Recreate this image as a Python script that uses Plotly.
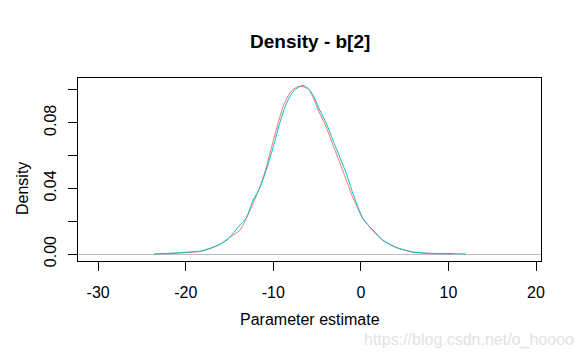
import plotly.graph_objects as go

# Data
red_x = [-23.6, -21.8, -20.1, -18.3, -17.2, -16.1, -15.0, -13.8, -13.1, -12.3, -11.6, -10.9,
         -10.2, -9.5, -8.8, -8.0, -7.3, -6.6, -6.0, -5.5, -4.8, -4.0, -3.3, -2.5, -1.8, -1.0,
         0.2, 1.4, 2.5, 4.0, 5.9, 7.8, 9.3, 10.5]
red_y = [0.0, 0.0003, 0.0008, 0.0016, 0.0033, 0.0058, 0.0100, 0.0145, 0.0215, 0.0310, 0.0400,
         0.0510, 0.0650, 0.0790, 0.0910, 0.0990, 0.1018, 0.1020, 0.1005, 0.0960, 0.0870,
         0.0780, 0.0680, 0.0570, 0.0470, 0.0355, 0.0220, 0.0140, 0.0083, 0.0040, 0.0012,
         0.0004, 0.0002, 0.0]

cyan_x = [-23.6, -21.8, -20.1, -18.3, -17.2, -16.1, -15.2, -13.8, -13.1, -12.3, -11.55, -10.8,
          -10.0, -9.27, -8.5, -7.75, -7.1, -6.6, -6.04, -5.47, -4.7, -3.95, -3.2, -2.43, -1.67,
          -0.91, 0.23, 1.37, 2.5, 4.0, 5.9, 7.8, 10.5, 12.0]
cyan_y = [0.0, 0.0004, 0.0010, 0.0018, 0.0035, 0.0059, 0.0090, 0.0177, 0.0218, 0.0329, 0.0400,
          0.0512, 0.0654, 0.0797, 0.0919, 0.0990, 0.1018, 0.1028, 0.1010, 0.0970, 0.0878,
          0.0797, 0.0695, 0.0593, 0.0492, 0.0370, 0.0215, 0.0146, 0.0085, 0.0041, 0.0012,
          0.0004, 0.0002, 0.0]

x_ticks = [-30, -20, -10, 0, 10, 20]
y_ticks = [0.00, 0.02, 0.04, 0.06, 0.08, 0.10]
y_ticktext = ["0.00", "", "0.04", "", "0.08", ""]

title_text = "Density - b[2]"
x_title = "Parameter estimate"
y_title = "Density"
watermark = "https://blog.csdn.net/o_hoooo"

FONT = "Liberation Sans, Arial, sans-serif"

fig = go.Figure()
fig.add_trace(go.Scatter(x=red_x, y=red_y, mode="lines",
                         line=dict(color="#F8766D", width=1, shape="spline", smoothing=0.6),
                         showlegend=False, hoverinfo="skip"))
fig.add_trace(go.Scatter(x=cyan_x, y=cyan_y, mode="lines",
                         line=dict(color="#00BFC4", width=1, shape="spline", smoothing=0.6),
                         showlegend=False, hoverinfo="skip"))

W, H = 582, 359
L, R, T, B = 78, 41, 78, 98
ph = H - T - B
pw = W - L - R

fig.update_layout(
    width=W, height=H,
    margin=dict(l=L, r=R, t=T, b=B, pad=0, autoexpand=False),
    paper_bgcolor="white", plot_bgcolor="white",
    font=dict(family=FONT, size=16, color="black"),
    showlegend=False,
)
fig.update_xaxes(
    range=[-32.3, 20.57], tickvals=x_ticks, ticktext=[str(v) for v in x_ticks],
    ticks="outside", ticklen=9, tickwidth=1, tickcolor="black",
    showline=True, linecolor="black", linewidth=1, mirror=True,
    showgrid=False, zeroline=False, ticklabelstandoff=8, automargin=False,
    tickfont=dict(family=FONT, size=16, color="black"),
)
fig.update_yaxes(
    range=[-0.00427, 0.1073], tickvals=y_ticks, ticktext=y_ticktext,
    ticks="outside", ticklen=9, tickwidth=1, tickcolor="black",
    showline=True, linecolor="black", linewidth=1, mirror=True,
    showgrid=False, zeroline=True, zerolinecolor="#BEBEBE", zerolinewidth=1,
    tickangle=-90, ticklabelstandoff=6, automargin=False,
    tickfont=dict(family=FONT, size=16, color="black"),
)

fig.add_annotation(text="<b>" + title_text + "</b>", xref="paper", yref="paper",
                   x=0.5, y=1 + (T - 41) / ph, xanchor="center", yanchor="middle",
                   showarrow=False, font=dict(family=FONT, size=19, color="black"))
fig.add_annotation(text=x_title, xref="paper", yref="paper",
                   x=0.5, y=-(319 - (H - B)) / ph, xanchor="center", yanchor="middle",
                   showarrow=False, font=dict(family=FONT, size=16, color="black"))
fig.add_annotation(text=y_title, xref="paper", yref="paper",
                   x=-(L - 22) / pw, y=(254 - 189 + 7) / ph, xanchor="center", yanchor="middle",
                   textangle=-90, showarrow=False, font=dict(family=FONT, size=16, color="black"))
fig.add_annotation(text=watermark, xref="paper", yref="paper",
                   x=(469 - L) / pw, y=-(340 - (H - B)) / ph, xanchor="center", yanchor="middle",
                   showarrow=False, font=dict(family=FONT, size=16, color="#E2E2E2"))

fig.write_html("out.html", config={"displayModeBar": False},
               post_script="document.body.style.margin='0px';")
